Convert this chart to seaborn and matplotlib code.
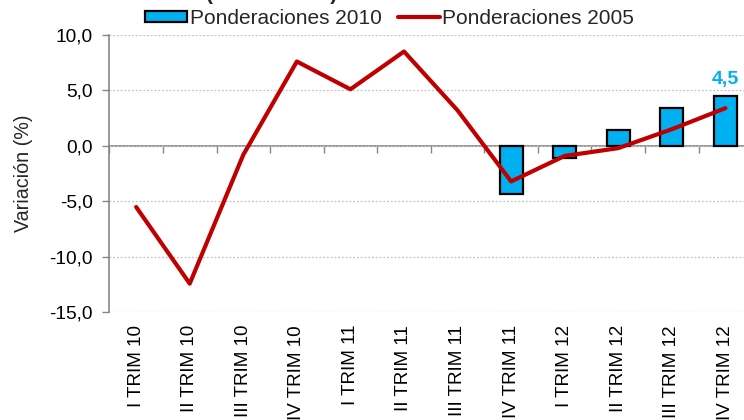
import numpy as np
import pandas as pd
import matplotlib
matplotlib.use("Agg")
import matplotlib.pyplot as plt
from matplotlib.patches import Patch
from matplotlib.lines import Line2D
import seaborn as sns

categories = ["I TRIM 10", "II TRIM 10", "III TRIM 10", "IV TRIM 10",
              "I TRIM 11", "II TRIM 11", "III TRIM 11", "IV TRIM 11",
              "I TRIM 12", "II TRIM 12", "III TRIM 12", "IV TRIM 12"]
pond_2010 = [np.nan, np.nan, np.nan, np.nan, np.nan, np.nan, np.nan,
             -4.3, -1.1, 1.4, 3.4, 4.5]
pond_2005 = [-5.5, -12.4, -0.8, 7.6, 5.1, 8.5, 3.2, -3.2, -0.9, -0.2, 1.5, 3.4]
y_ticks = [-15, -10, -5, 0, 5, 10]
y_ticklabels = ["-15,0", "-10,0", "-5,0", "0,0", "5,0", "10,0"]
series_names = ["Ponderaciones 2010", "Ponderaciones 2005"]
last_label = "4,5"
title_text = "(Variación %)"

BAR_COLOR = "#00B0F0"
LINE_COLOR = "#C00000"
GRAY = "#868686"

sns.set_theme(style="white")
plt.rcParams["font.family"] = ["Liberation Sans", "DejaVu Sans"]

df = pd.DataFrame({"cat": categories, "p2010": pond_2010, "p2005": pond_2005,
                   "pos": range(len(categories))})

fig = plt.figure(figsize=(7.44, 4.20), dpi=100)
ax = fig.add_axes([0.147, 0.256, 0.864, 0.661])

sns.barplot(data=df, x="cat", y="p2010", order=categories, color=BAR_COLOR,
            saturation=1, width=0.43, edgecolor="black", linewidth=1.6,
            errorbar=None, ax=ax, zorder=3)
sns.lineplot(data=df, x="pos", y="p2005", color=LINE_COLOR, linewidth=3.0,
             ax=ax, zorder=4)

ax.set_xlim(-0.5, len(categories) - 0.5)
ax.set_ylim(-15, 10)
ax.set_yticks(y_ticks)
ax.set_yticklabels(y_ticklabels, fontsize=13.8, color="black")
ax.set_xticks(range(len(categories)))
ax.set_xticklabels(categories, rotation=90, fontsize=13.6, color="black")
ax.tick_params(axis="x", length=0, pad=9)
ax.tick_params(axis="y", length=5, width=1, color=GRAY, direction="out",
               pad=7, left=True)
ax.set_xlabel("")
ax.set_ylabel("Variación (%)", fontsize=14.2, labelpad=12)

for s in ["top", "right", "bottom"]:
    ax.spines[s].set_visible(False)
ax.spines["left"].set_color(GRAY)
ax.spines["left"].set_linewidth(1.2)

ax.yaxis.grid(True, linestyle=(0, (1.5, 1.5)), color="#C4C4C4", linewidth=0.9)
ax.set_axisbelow(True)

# zero axis line with category-boundary tick marks
ymin, ymax = ax.get_ylim()
sec = ax.secondary_xaxis((0 - ymin) / (ymax - ymin))
sec.set_xticks(np.arange(-0.5, len(categories) + 0.5, 1.0))
sec.set_xticklabels([])
sec.tick_params(direction="in", length=5, width=1, color=GRAY)
for s in sec.spines.values():
    s.set_color(GRAY)
    s.set_linewidth(1.2)

# data label on last bar
ax.annotate(last_label, xy=(len(categories) - 1, pond_2010[-1]),
            xytext=(0, 6), textcoords="offset points", ha="center",
            va="bottom", color=BAR_COLOR, fontsize=14, fontweight="bold")

handles = [Patch(facecolor=BAR_COLOR, edgecolor="black", linewidth=1.6),
           Line2D([0], [0], color=LINE_COLOR, linewidth=3.0)]
fig.legend(handles, series_names, loc="center", bbox_to_anchor=(0.524, 0.956),
           ncol=2, frameon=False, fontsize=15, handlelength=2.0,
           handleheight=0.45, handletextpad=0.12, columnspacing=0.8,
           borderaxespad=0, borderpad=0)

fig.text(0.365, 1.0, title_text, ha="center", va="baseline", fontsize=15,
         fontweight="bold")

fig.savefig("out.png", dpi=100)
